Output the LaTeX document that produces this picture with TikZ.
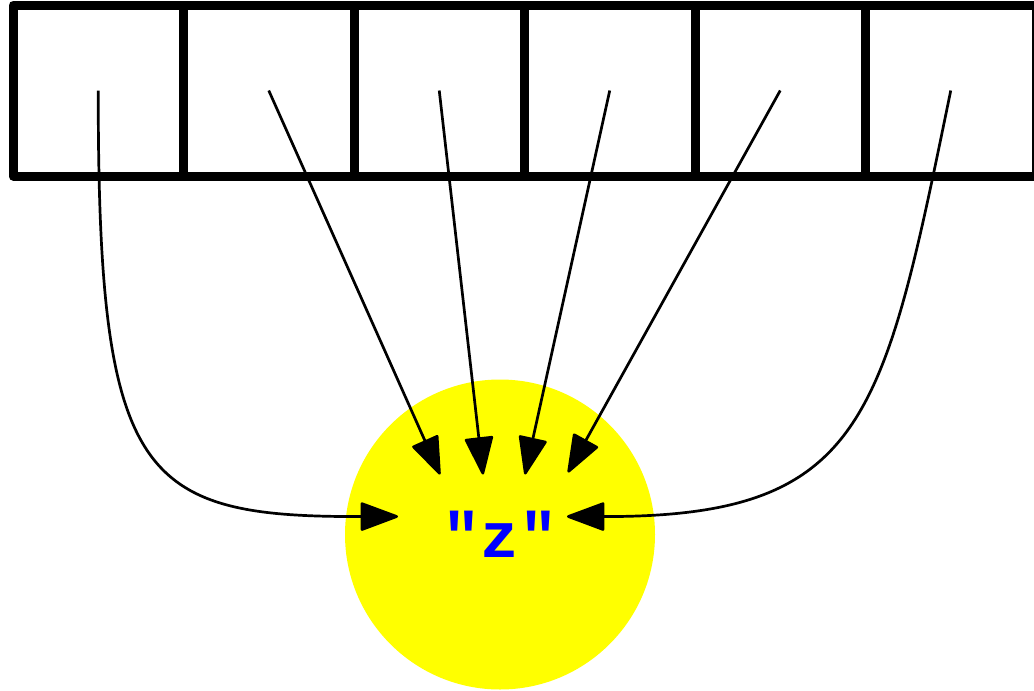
\documentclass[tikz,border=0pt]{standalone}
\usepackage{fontspec}
\newfontfamily\labelfont{Liberation Mono}
\usepackage{tikz}
\usetikzlibrary{arrows.meta}

\tikzset{
  cellbox/.style={draw=black,line width=4.5pt,line join=round,rectangle,
    minimum width=85.25pt,minimum height=85.5pt,inner sep=0pt,outer sep=0pt},
  blobnode/.style={circle,fill={rgb,255:red,255;green,255;blue,0},draw=none,
    minimum size=155pt,inner sep=0pt},
  lblnode/.style={text={rgb,255:red,0;green,0;blue,255},
    font=\labelfont\bfseries\fontsize{32}{34}\selectfont,inner sep=0pt},
  ptr/.style={draw=black,line width=1.35pt,
    -{Triangle[length=20pt,width=14.5pt,round]}},
}

\begin{document}
\begin{tikzpicture}[x=.5pt,y=-.5pt]
\path[use as bounding box] (0,0) rectangle (1034,691);
\path[fill=white,draw=none] (0,0) rectangle (1034,691);
% array cells
\foreach \i in {1,...,6}
  \node[cellbox] (cell\i) at ({13+170.5*(\i-0.5)},90.5) {};
% target
\node[blobnode] (blob) at (500,534.5) {};
\node[lblnode] (lbl) at (blob.center) {"z"};
% pointers
\draw[ptr] (cell1.center) .. controls (98,480) and (140,517) .. ([shift={(-102,-18)}]lbl.center);
\draw[ptr] (cell2.center) -- ([shift={(-60,-60)}]lbl.center);
\draw[ptr] (cell3.center) -- ([shift={(-17,-60)}]lbl.center);
\draw[ptr] (cell4.center) -- ([shift={(25,-60)}]lbl.center);
\draw[ptr] (cell5.center) -- ([shift={(68,-62)}]lbl.center);
\draw[ptr] (cell6.center) .. controls (883,420) and (865,517) .. ([shift={(67,-18)}]lbl.center);
\end{tikzpicture}
\end{document}
